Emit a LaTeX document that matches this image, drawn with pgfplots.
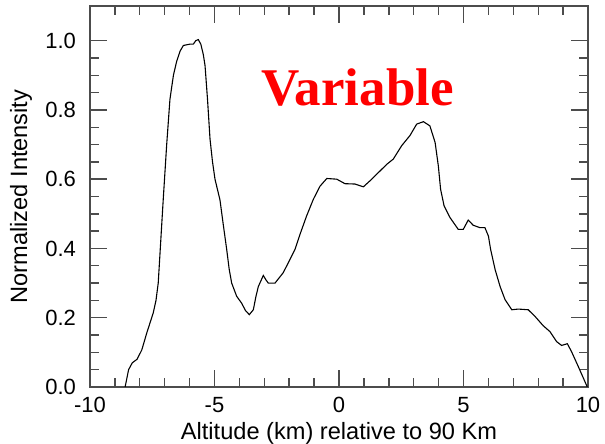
\documentclass[border=0pt]{standalone}
\usepackage{pgfplots}
\pgfplotsset{compat=1.18}
\usepackage{fontspec}
\setmainfont{Liberation Sans}
\newfontfamily\timesfont{Liberation Serif}
\begin{document}
\begin{tikzpicture}
\path[use as bounding box] (-45pt,-28.5pt) rectangle (257.5pt,193.5pt);
\begin{axis}[
  at={(0,0)}, anchor=south west,
  scale only axis, width=249pt, height=190.5pt,
  xmin=-10, xmax=10, ymin=0, ymax=1.1,
  xtick={-10,-5,0,5,10}, minor x tick num=4,
  ytick={0,0.2,0.4,0.6,0.8,1.0}, minor y tick num=3,
  yticklabel style={/pgf/number format/fixed, /pgf/number format/fixed zerofill, /pgf/number format/precision=1, xshift=-3.5pt},
  /pgf/number format/assume math mode=true,
  tick align=inside,
  major tick length=8.5pt, minor tick length=4.5pt,
  axis line style={black!70, line width=0.8pt},
  every tick/.style={black!70, line width=0.7pt},
  tick label style={font=\fontsize{11}{13}\selectfont, black},
  xticklabel style={yshift=-1.5pt},
  label style={font=\fontsize{11.8}{14}\selectfont, black},
  xlabel={Altitude (km) relative to 90 Km},
  ylabel={Normalized Intensity},
  xlabel style={at={(axis description cs:0.5,0)}, anchor=base, yshift=-26.5pt},
  ylabel style={at={(axis description cs:0,0.5)}, anchor=south, xshift=0pt, yshift=25.5pt},
]
\addplot[black, line width=0.55pt] coordinates {
(-8.59,0) (-8.45,0.05) (-8.3,0.07) (-8.11,0.08) (-7.92,0.107) (-7.72,0.156)
(-7.46,0.214) (-7.35,0.25) (-7.26,0.30) (-7.16,0.42) (-7.06,0.54) (-6.92,0.70)
(-6.79,0.83) (-6.65,0.9) (-6.52,0.94) (-6.38,0.97) (-6.25,0.986) (-5.98,0.99)
(-5.85,0.99) (-5.75,1.0) (-5.65,1.003) (-5.55,0.99) (-5.45,0.96) (-5.38,0.928)
(-5.28,0.83) (-5.18,0.716) (-5.08,0.65) (-4.98,0.60) (-4.88,0.57) (-4.78,0.54)
(-4.65,0.47) (-4.51,0.397) (-4.41,0.34) (-4.31,0.30) (-4.11,0.262) (-3.91,0.242)
(-3.75,0.22) (-3.6,0.209) (-3.44,0.223) (-3.34,0.26) (-3.24,0.29) (-3.04,0.322)
(-2.94,0.31) (-2.84,0.30) (-2.57,0.30) (-2.24,0.33) (-1.97,0.368) (-1.77,0.397)
(-1.57,0.44) (-1.3,0.494) (-1.03,0.542) (-0.76,0.58) (-0.49,0.602) (-0.09,0.60)
(0.24,0.587) (0.64,0.586) (0.98,0.578) (1.24,0.595) (1.51,0.614) (1.92,0.643)
(2.18,0.658) (2.52,0.697) (2.85,0.726) (3.12,0.759) (3.39,0.766) (3.65,0.754)
(3.86,0.706) (3.99,0.638) (4.08,0.571) (4.22,0.523) (4.46,0.489) (4.79,0.455)
(4.99,0.455) (5.19,0.482) (5.39,0.467) (5.66,0.46) (5.86,0.46) (6.0,0.436)
(6.09,0.397) (6.27,0.339) (6.47,0.29) (6.67,0.252) (6.94,0.223) (7.2,0.225)
(7.6,0.223) (7.87,0.204) (8.2,0.177) (8.47,0.16) (8.74,0.131) (8.94,0.12)
(9.17,0.125) (9.34,0.102) (9.61,0.059) (9.88,0.015) (9.97,0)
};
\node[anchor=base, text=red, font=\timesfont\bfseries\fontsize{26.5}{29}\selectfont, inner sep=0pt] at (axis cs:0.75,0.812) {Variable};
\end{axis}
\end{tikzpicture}
\end{document}
